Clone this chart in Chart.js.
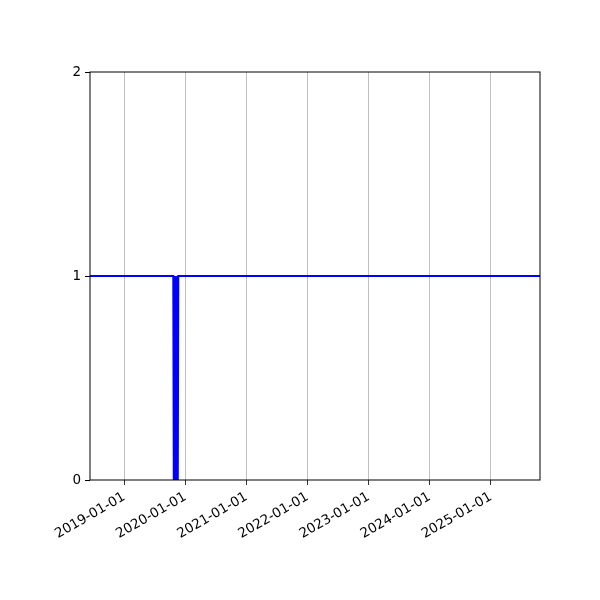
<!DOCTYPE html>
<html>
<head>
<meta charset="utf-8">
<script src="https://cdn.jsdelivr.net/npm/chart.js@4/dist/chart.umd.min.js"></script>
<style>
  html, body { margin: 0; padding: 0; background: #fff; }
  #wrap { width: 600px; height: 600px; }
</style>
</head>
<body>
<div id="wrap"><canvas id="stateChart"></canvas></div>
<script>
// Data
const dates = ['2018-06-10', '2019-10-21', '2019-10-24', '2019-10-27', '2019-10-30', '2019-11-02',
  '2019-11-05', '2019-11-08', '2019-11-11', '2019-11-14', '2019-11-17', '2019-11-20', '2025-10-22'];
const values = [1, 1, 0, 1, 0, 1, 0, 1, 0, 1, 0, 1, 1];
const tickYears = [2019, 2020, 2021, 2022, 2023, 2024, 2025];
const yTicks = [0, 1, 2];
const xMin = '2018-06-10';
const xMax = '2025-10-22';

const toTime = s => Date.parse(s + 'T00:00:00Z');
const fmtDate = v => new Date(v).toISOString().slice(0, 10);

// Full black frame round the plot area
const frame = {
  id: 'frame',
  afterDatasetsDraw(chart) {
    const { ctx, chartArea: a } = chart;
    ctx.save();
    ctx.strokeStyle = '#000';
    ctx.lineWidth = 1;
    ctx.strokeRect(a.left, a.top, a.right - a.left, a.bottom - a.top);
    ctx.restore();
  }
};

const ctx = document.getElementById('stateChart').getContext('2d');
new Chart(ctx, {
  type: 'line',
  data: {
    datasets: [{
      data: dates.map((d, i) => ({ x: toTime(d), y: values[i] })),
      borderColor: '#0000ff',
      borderWidth: 2,
      pointRadius: 0,
      tension: 0,
      fill: false
    }]
  },
  options: {
    responsive: true,
    maintainAspectRatio: false,
    animation: false,
    layout: { padding: { top: 72, right: 60, left: 0, bottom: 0 } },
    plugins: { legend: { display: false }, tooltip: { enabled: false } },
    scales: {
      x: {
        type: 'linear',
        min: toTime(xMin),
        max: toTime(xMax),
        afterBuildTicks: scale => {
          scale.ticks = tickYears.map(y => ({ value: Date.UTC(y, 0, 1) }));
        },
        afterFit: scale => { scale.height = 120; },
        border: { display: false },
        grid: { color: '#b0b0b0', lineWidth: 0.8, tickColor: '#000', tickLength: 5 },
        ticks: {
          color: '#000',
          font: { family: 'DejaVu Sans', size: 13.5 },
          maxRotation: 30,
          minRotation: 30,
          padding: 4,
          callback: v => fmtDate(v)
        }
      },
      y: {
        min: 0,
        max: 2,
        afterBuildTicks: scale => {
          scale.ticks = yTicks.map(v => ({ value: v }));
        },
        afterFit: scale => { scale.width = 90; },
        border: { display: false },
        grid: { drawOnChartArea: false, tickColor: '#000', tickLength: 5 },
        ticks: {
          color: '#000',
          font: { family: 'DejaVu Sans', size: 13.5 },
          padding: 4
        }
      }
    }
  },
  plugins: [frame]
});
</script>
</body>
</html>
